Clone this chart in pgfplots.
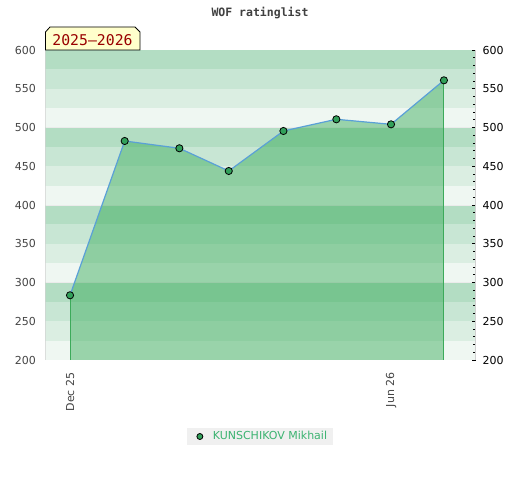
\documentclass[border=0pt]{standalone}
\usepackage{fontspec}
\setmainfont{DejaVu Sans}
\newfontfamily\monofont{DejaVu Sans Mono}
\usepackage{pgfplots}
\pgfplotsset{compat=1.18}
\definecolor{bandA}{RGB}{239,247,242}
\definecolor{bandB}{RGB}{219,238,226}
\definecolor{bandC}{RGB}{200,230,212}
\definecolor{bandD}{RGB}{179,221,195}
\definecolor{fillg}{RGB}{49,168,84}
\definecolor{lineb}{RGB}{90,160,215}
\definecolor{vline}{RGB}{60,170,90}
\definecolor{markg}{RGB}{50,160,90}
\definecolor{lblgray}{RGB}{68,68,68}
\definecolor{legtxt}{RGB}{60,179,113}
\definecolor{boxy}{RGB}{255,255,204}
\definecolor{darkred}{RGB}{153,0,0}
\begin{document}
\begin{tikzpicture}
\useasboundingbox (0,0) rectangle (520bp,480bp);
\begin{axis}[
  at={(45.5bp,120bp)}, anchor=south west, scale only axis,
  width=430bp, height=310bp,
  xmin=-13.9, xmax=229.9, ymin=200, ymax=600,
  ytick={200,250,...,600},
  xtick={0,182}, xticklabels={Dec 25,Jun 26},
  x tick label style={rotate=90, anchor=east, yshift=0bp, xshift=-9bp},
  y tick label style={xshift=-6bp},
  major tick length=0pt,
  axis line style={draw=black!18, line width=1bp},
  tick label style={font=\fontsize{11bp}{13bp}\selectfont, text=lblgray},
  /pgf/number format/assume math mode=true,
  legend style={at={(0.4988,-0.2468)}, anchor=center, fill=black!6, draw=none,
    font=\fontsize{11bp}{13bp}\selectfont, text=legtxt, inner xsep=3bp, inner ysep=1.5bp,
    nodes={inner xsep=3bp}},
  legend cell align=left,
]
% background bands
\fill[bandA] (axis cs:-20,200) rectangle (axis cs:240,225);
\fill[bandB] (axis cs:-20,225) rectangle (axis cs:240,250);
\fill[bandC] (axis cs:-20,250) rectangle (axis cs:240,275);
\fill[bandD] (axis cs:-20,275) rectangle (axis cs:240,300);
\fill[bandA] (axis cs:-20,300) rectangle (axis cs:240,325);
\fill[bandB] (axis cs:-20,325) rectangle (axis cs:240,350);
\fill[bandC] (axis cs:-20,350) rectangle (axis cs:240,375);
\fill[bandD] (axis cs:-20,375) rectangle (axis cs:240,400);
\fill[bandA] (axis cs:-20,400) rectangle (axis cs:240,425);
\fill[bandB] (axis cs:-20,425) rectangle (axis cs:240,450);
\fill[bandC] (axis cs:-20,450) rectangle (axis cs:240,475);
\fill[bandD] (axis cs:-20,475) rectangle (axis cs:240,500);
\fill[bandA] (axis cs:-20,500) rectangle (axis cs:240,525);
\fill[bandB] (axis cs:-20,525) rectangle (axis cs:240,550);
\fill[bandC] (axis cs:-20,550) rectangle (axis cs:240,575);
\fill[bandD] (axis cs:-20,575) rectangle (axis cs:240,600);
\draw[black!8, line width=0.8bp] (axis cs:-20,300) -- (axis cs:240,300);
\draw[black!8, line width=0.8bp] (axis cs:-20,400) -- (axis cs:240,400);
\draw[black!8, line width=0.8bp] (axis cs:-20,500) -- (axis cs:240,500);
% area
\addplot[draw=none, fill=fillg, fill opacity=0.45, forget plot]
  coordinates {(0,283.5) (31,482.6) (62,473.2) (90,443.9) (121,495.5) (151,510.6) (182,504.1) (212,560.9)} \closedcycle;
\addplot[ycomb, vline, line width=1bp, forget plot]
  coordinates {(0,283.5) (212,560.9)};
\addplot[lineb, line width=1.2bp, mark=*, mark size=3.6bp,
  mark options={fill=markg, draw=black, line width=0.8bp}, forget plot]
  coordinates {(0,283.5) (31,482.6) (62,473.2) (90,443.9) (121,495.5) (151,510.6) (182,504.1) (212,560.9)};
\addlegendimage{legend image code/.code={
  \path[draw=none, fill=none] (-10bp,0bp) -- (10bp,0bp);
  \filldraw[fill=markg, draw=black, line width=0.8bp] (0bp,0bp) circle (3bp);}}
\addlegendentry{KUNSCHIKOV Mikhail}
\end{axis}
\begin{axis}[
  at={(45.5bp,120bp)}, anchor=south west, scale only axis,
  width=430bp, height=310bp,
  xmin=-13.9, xmax=229.9, ymin=200, ymax=600,
  axis x line=none, axis y line*=right,
  axis line style={draw=black!18, line width=1bp, -},
  ytick={200,250,...,600}, minor y tick num=4,
  tick align=inside,
  major tick length=4bp, minor tick length=3bp,
  tick style={black, line width=0.8bp},
  yticklabel style={font=\fontsize{11bp}{13bp}\selectfont, text=black, xshift=3.5bp},
  /pgf/number format/assume math mode=true,
]
\end{axis}
\node[font=\monofont\bfseries\fontsize{11.5bp}{13bp}\selectfont, text=black!75] at (260bp,467bp) {WOF ratinglist};
\filldraw[fill=boxy, draw=black, line width=0.8bp] (45.5bp,430bp) -- (45.5bp,448bp) -- (50bp,453bp) -- (135bp,453bp) -- (140bp,448bp) -- (140bp,430bp) -- cycle;
\node[font=\monofont\fontsize{14.8bp}{16bp}\selectfont, text=darkred] at (92.5bp,440bp) {2025–2026};
\end{tikzpicture}
\end{document}
